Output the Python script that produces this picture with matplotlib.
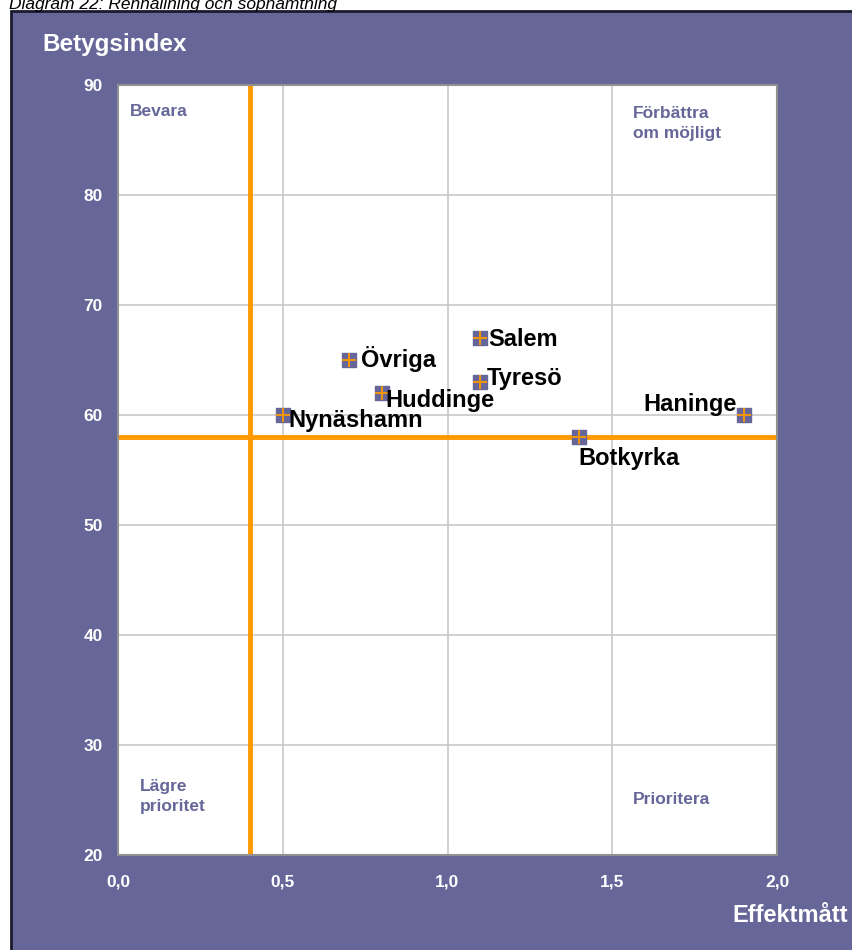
import matplotlib.pyplot as plt
from matplotlib.patches import Rectangle

plt.rcParams['font.family'] = ['Liberation Sans', 'DejaVu Sans']

# kommuner, effektmått och betygsindex
kommuner = ['Nynäshamn', 'Övriga', 'Huddinge', 'Salem', 'Tyresö', 'Botkyrka', 'Haninge']
effekt = [0.5, 0.7, 0.8, 1.1, 1.1, 1.4, 1.9]
betyg = [60, 65, 62, 67, 63, 58, 60]

# etikettförskjutning i pixlar
offsets = [(6, -5), (12, 1), (4, -7), (8, -1), (6, 4), (-1, -22), (-7, 10)]
align = ['left', 'left', 'left', 'left', 'left', 'left', 'right']

medel_effekt = 0.4
medel_betyg = 58

x_ticks = [0.0, 0.5, 1.0, 1.5, 2.0]
x_ticklabels = ['0,0', '0,5', '1,0', '1,5', '2,0']
y_ticks = [20, 30, 40, 50, 60, 70, 80, 90]

lila = '#666699'
orange = '#FF9900'

fig = plt.figure(figsize=(8.52, 9.5), dpi=100)
fig.patch.set_facecolor('white')
fig.patches.append(Rectangle((11 / 852, -0.01), 1.0, 1 - 11 / 950 + 0.01,
                             transform=fig.transFigure, facecolor=lila,
                             edgecolor='#1a1a2e', linewidth=2, zorder=-5))

fig.text(0.01, 1 - 4 / 950, 'Diagram 22: Renhållning och sophämtning',
         fontsize=12.5, style='italic', color='black', va='center', ha='left')

ax = fig.add_axes([118 / 852, 95 / 950, 659 / 852, 770 / 950])
ax.set_facecolor('white')
ax.set_xlim(0, 2)
ax.set_ylim(20, 90)
ax.set_xticks(x_ticks)
ax.set_xticklabels(x_ticklabels)
ax.set_yticks(y_ticks)
ax.grid(True, color='#c8c8c8', linewidth=1.2)
ax.set_axisbelow(True)
for s in ax.spines.values():
    s.set_color('#909090')
    s.set_linewidth(1.5)
ax.tick_params(length=0, colors='white', labelsize=12.5)
ax.tick_params(axis='x', pad=14)
ax.tick_params(axis='y', pad=11)
for lab in ax.get_xticklabels() + ax.get_yticklabels():
    lab.set_fontweight('bold')

ax.axvline(medel_effekt, color=orange, linewidth=3.5, zorder=2)
ax.axhline(medel_betyg, color=orange, linewidth=3.5, zorder=2)

ax.scatter(effekt, betyg, marker='s', s=100, color=lila, zorder=3)
ax.scatter(effekt, betyg, marker='+', s=90, color=orange, linewidths=1.3, zorder=4)

for namn, x, y, off, ha in zip(kommuner, effekt, betyg, offsets, align):
    ax.annotate(namn, (x, y), xytext=off, textcoords='offset pixels',
                ha=ha, va='center', fontsize=17, fontweight='bold', color='black', zorder=5)

# kvadrantetiketter
kw = dict(fontsize=12.5, fontweight='bold', color=lila, transform=ax.transAxes, va='center')
ax.text(12 / 659, 1 - 27 / 770, 'Bevara', **kw)
ax.text(515 / 659, 1 - 38.5 / 770, 'Förbättra\nom möjligt', linespacing=1.45, **kw)
ax.text(22 / 659, 1 - 711.5 / 770, 'Lägre\nprioritet', linespacing=1.45, **kw)
ax.text(515 / 659, 1 - 715 / 770, 'Prioritera', **kw)

fig.text(42 / 852, 1 - 45 / 950, 'Betygsindex', fontsize=17.5, fontweight='bold',
         color='white', va='center', ha='left')
fig.text(848 / 852, 1 - 916 / 950, 'Effektmått', fontsize=17, fontweight='bold',
         color='white', va='center', ha='right')

fig.savefig('out.png', dpi=100)
